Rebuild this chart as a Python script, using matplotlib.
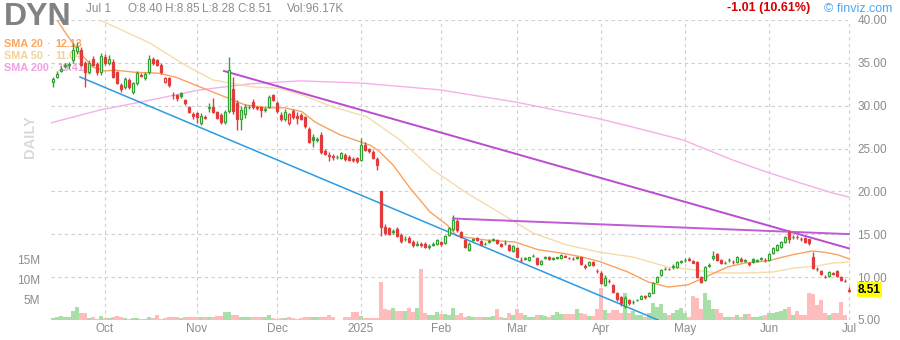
import matplotlib
matplotlib.use("Agg")
import matplotlib.pyplot as plt
import matplotlib.transforms as mtransforms

plt.rcParams['font.family'] = ['Liberation Sans', 'DejaVu Sans']

# ---------------- data (daily bars, index 0 = 12 Sep 2024 ... 199 = 1 Jul 2025) -------------
opens = [32.8, 33.4, 34.0, 34.6, 34.7, 35.3, 36.4, 36.5, 35.0, 33.9,
         35.5, 34.9, 33.9, 35.7, 35.0, 35.1, 33.9, 32.4, 32.2, 33.0,
         31.6, 32.6, 33.5, 33.2, 33.9, 35.4, 35.3, 34.7, 32.8, 33.2,
         31.3, 31.2, 31.5, 30.7, 29.9, 29.0, 29.1, 28.0, 28.6, 29.7,
         29.8, 29.3, 28.9, 28.1, 29.4, 32.0, 30.3, 28.5, 29.0, 29.8,
         30.4, 29.9, 29.8, 29.5, 29.9, 31.2, 30.3, 28.9, 28.4, 28.0,
         29.4, 28.8, 28.9, 28.7, 27.3, 26.4, 26.0, 26.6, 24.7, 24.3,
         24.1, 24.0, 23.9, 24.3, 24.0, 23.8, 23.9, 23.7, 25.4, 24.9,
         24.6, 23.8, 20.0, 15.9, 15.7, 15.3, 15.6, 14.9, 14.4, 14.6,
         14.1, 13.8, 13.9, 13.9, 13.55, 13.8, 13.9, 14.1, 14.0, 14.9,
         15.6, 16.6, 15.3, 14.3, 13.2, 14.3, 14.6, 14.2, 13.85, 14.1,
         14.35, 14.3, 13.9, 13.95, 13.75, 13.0, 13.4, 12.05, 12.15, 12.0,
         12.45, 12.2, 11.5, 12.25, 12.4, 12.15, 12.25, 12.2, 12.45, 12.25,
         12.15, 12.25, 12.3, 11.25, 11.4, 11.8, 10.75, 10.5, 9.1, 9.6,
         9.1, 8.2, 7.7, 6.6, 7.3, 7.05, 7.3, 7.5, 7.75, 7.8,
         8.2, 9.45, 10.2, 10.95, 11.0, 11.15, 11.2, 11.75, 11.95, 12.1,
         11.9, 11.8, 10.0, 9.7, 11.35, 12.2, 12.7, 12.0, 11.65, 11.95,
         11.8, 11.75, 12.1, 11.9, 11.6, 12.1, 11.9, 12.15, 12.05, 12.0,
         12.8, 13.2, 13.5, 14.1, 15.3, 14.65, 14.7, 14.5, 14.6, 14.45,
         12.35, 11.0, 10.7, 10.05, 10.1, 10.45, 10.7, 10.0, 9.6, 8.40]
highs = [33.4, 34.0, 34.6, 35.0, 35.1, 37.3, 37.4, 36.8, 35.2, 35.3,
         35.8, 35.1, 36.2, 36.0, 35.9, 35.4, 34.1, 32.6, 33.4, 33.2,
         32.8, 34.0, 33.8, 33.9, 35.9, 35.7, 35.5, 35.0, 33.4, 33.4,
         31.6, 31.4, 31.6, 30.8, 30.0, 29.3, 29.3, 29.2, 28.9, 30.3,
         30.9, 29.4, 29.1, 29.5, 35.7, 33.3, 30.7, 30.0, 30.2, 30.1,
         30.8, 30.0, 30.0, 29.9, 31.3, 31.4, 30.5, 29.3, 29.6, 29.2,
         29.6, 29.3, 29.2, 28.8, 27.5, 26.7, 26.3, 26.9, 24.9, 24.6,
         24.4, 24.3, 24.6, 24.5, 24.2, 24.0, 24.0, 26.2, 25.8, 25.1,
         24.8, 24.0, 20.0, 16.2, 15.9, 15.6, 15.8, 15.1, 14.8, 14.8,
         14.3, 14.2, 14.1, 14.1, 13.9, 14.1, 14.4, 14.2, 14.9, 15.8,
         17.2, 16.8, 15.4, 14.5, 14.1, 14.6, 14.7, 14.3, 14.1, 14.4,
         14.6, 14.4, 14.0, 14.3, 13.9, 13.7, 13.5, 12.3, 12.4, 12.4,
         12.7, 12.3, 12.0, 12.5, 12.5, 12.3, 12.4, 12.7, 12.55, 12.35,
         12.3, 12.4, 12.4, 11.5, 11.9, 11.9, 11.0, 10.7, 10.2, 9.8,
         9.2, 8.3, 7.8, 7.8, 7.4, 7.3, 7.5, 7.9, 7.9, 8.3,
         9.4, 10.1, 10.9, 11.2, 11.1, 11.5, 11.9, 12.0, 12.2, 12.4,
         12.0, 11.9, 10.1, 11.3, 11.7, 13.0, 12.8, 12.1, 11.9, 12.2,
         12.0, 12.5, 12.3, 12.1, 11.8, 12.2, 12.1, 12.4, 12.2, 12.8,
         13.5, 13.9, 14.2, 14.8, 15.5, 14.9, 14.9, 14.7, 14.7, 14.5,
         12.9, 11.2, 10.8, 10.3, 10.7, 10.6, 10.8, 10.1, 9.8, 8.85]
lows = [32.2, 33.2, 33.9, 34.4, 34.3, 35.0, 36.0, 34.6, 32.2, 33.7,
        34.6, 33.6, 33.6, 34.8, 34.8, 33.2, 32.5, 31.6, 32.0, 32.0,
        31.4, 32.4, 33.3, 33.0, 33.7, 34.8, 34.6, 33.7, 32.6, 32.2,
        30.8, 30.6, 30.9, 30.1, 29.1, 28.4, 28.0, 27.8, 28.4, 29.3,
        29.1, 28.4, 27.9, 27.9, 29.2, 29.0, 27.2, 27.2, 28.6, 29.6,
        29.6, 29.5, 28.7, 29.3, 29.7, 30.5, 29.2, 28.2, 28.2, 27.7,
        28.4, 27.9, 28.3, 27.4, 25.6, 25.2, 25.8, 24.4, 24.2, 23.6,
        23.7, 23.8, 23.8, 23.6, 23.5, 23.4, 23.3, 23.5, 24.7, 24.5,
        23.8, 22.5, 14.8, 14.9, 14.9, 15.0, 14.7, 14.0, 14.2, 14.0,
        13.5, 13.6, 13.5, 13.4, 13.3, 13.6, 13.8, 13.6, 13.9, 14.8,
        15.4, 15.3, 14.6, 13.4, 13.1, 14.2, 14.2, 13.7, 13.7, 14.0,
        14.2, 13.9, 13.5, 13.8, 13.1, 12.9, 12.3, 11.8, 12.0, 11.9,
        12.3, 11.4, 11.4, 12.1, 12.0, 12.0, 12.1, 12.1, 12.3, 12.1,
        12.0, 12.1, 11.4, 10.9, 11.3, 11.3, 10.5, 9.2, 9.0, 9.3,
        8.1, 7.2, 6.6, 6.4, 6.8, 6.9, 7.2, 7.4, 7.5, 7.7,
        8.1, 9.4, 10.1, 10.8, 10.8, 11.0, 11.1, 11.6, 11.8, 11.9,
        11.6, 9.9, 9.3, 9.5, 11.2, 12.0, 11.9, 11.5, 11.5, 11.8,
        11.5, 11.7, 11.8, 11.8, 11.3, 11.7, 11.8, 12.0, 11.8, 11.9,
        12.7, 13.1, 13.4, 14.0, 14.0, 14.5, 14.4, 14.2, 14.0, 13.8,
        11.0, 10.7, 10.2, 9.9, 10.0, 10.3, 10.0, 9.6, 9.4, 8.28]
closes = [33.1, 33.7, 34.3, 34.7, 34.9, 36.5, 36.9, 34.8, 33.9, 35.0,
          34.8, 33.9, 35.8, 35.0, 35.5, 33.4, 32.7, 31.9, 33.1, 32.2,
          32.6, 33.8, 33.6, 33.7, 35.5, 35.0, 34.8, 33.9, 33.2, 32.4,
          31.2, 30.9, 31.1, 30.3, 29.3, 28.8, 28.7, 28.75, 28.7, 29.9,
          29.3, 28.6, 28.1, 29.3, 34.2, 29.4, 28.5, 29.5, 29.8, 29.9,
          29.8, 29.7, 29.5, 29.6, 31.0, 30.7, 29.4, 28.4, 29.3, 29.0,
          28.7, 28.6, 28.5, 27.6, 25.8, 26.0, 26.1, 24.6, 24.4, 24.1,
          24.0, 24.05, 24.5, 23.8, 23.7, 23.65, 23.5, 25.4, 24.8, 24.7,
          23.9, 23.1, 15.8, 15.2, 15.0, 15.35, 14.8, 14.2, 14.5, 14.1,
          13.7, 13.9, 13.8, 13.5, 13.6, 13.9, 14.3, 13.9, 14.8, 15.7,
          16.7, 15.5, 14.7, 13.5, 13.9, 14.4, 14.3, 13.8, 13.9, 14.2,
          14.4, 14.0, 13.6, 14.0, 13.2, 13.6, 12.35, 12.0, 12.2, 12.3,
          12.5, 11.5, 11.9, 12.3, 12.1, 12.2, 12.3, 12.6, 12.4, 12.2,
          12.1, 12.3, 11.5, 11.2, 11.8, 11.4, 10.7, 9.3, 9.9, 9.55,
          8.3, 7.4, 7.0, 7.6, 7.0, 7.1, 7.35, 7.8, 7.7, 8.2,
          9.3, 10.0, 10.8, 11.0, 10.9, 11.3, 11.8, 11.85, 12.0, 11.95,
          11.7, 10.0, 9.45, 11.2, 11.4, 12.5, 12.0, 11.6, 11.7, 12.0,
          11.75, 12.35, 11.9, 11.95, 11.55, 11.8, 11.95, 12.2, 12.0, 12.7,
          13.4, 13.8, 14.1, 14.7, 14.45, 14.7, 14.65, 14.45, 14.1, 14.0,
          11.05, 10.95, 10.35, 10.0, 10.6, 10.4, 10.1, 9.7, 9.52, 8.51]
volumes_m = [0.6, 0.8, 1.0, 0.7, 0.7, 2.3, 3.2, 1.7, 1.75, 0.6,
             0.75, 0.35, 1.0, 0.4, 0.5, 0.8, 1.0, 0.7, 0.5, 0.35,
             0.5, 0.5, 0.25, 0.35, 0.75, 0.5, 1.2, 0.35, 0.5, 0.7,
             0.7, 0.7, 0.6, 0.7, 0.75, 0.75, 0.75, 0.7, 0.7, 0.7,
             0.8, 1.0, 1.0, 1.9, 2.0, 1.3, 1.25, 0.8, 0.7, 0.7,
             0.8, 0.8, 0.8, 0.8, 1.25, 0.5, 0.35, 0.5, 0.5, 0.7,
             0.5, 0.35, 0.4, 0.7, 0.7, 0.7, 0.7, 0.7, 0.7, 1.2,
             0.7, 0.1, 0.1, 0.7, 0.7, 1.9, 1.9, 1.0, 0.6, 0.6,
             0.6, 0.5, 9.6, 2.8, 2.5, 2.9, 2.25, 2.25, 2.25, 3.0,
             1.9, 3.0, 12.75, 1.8, 1.2, 1.2, 1.9, 1.4, 1.4, 1.25,
             3.0, 1.25, 1.7, 0.8, 1.0, 0.8, 0.8, 0.8, 0.8, 0.8,
             1.0, 2.75, 0.8, 0.4, 1.7, 1.2, 2.75, 1.7, 1.2, 0.8,
             0.7, 1.3, 1.2, 1.0, 0.7, 1.2, 1.9, 1.5, 1.5, 1.5,
             1.5, 2.7, 1.7, 1.5, 1.0, 1.0, 2.7, 8.1, 2.5, 1.7,
             2.5, 2.5, 1.7, 6.7, 1.7, 2.3, 1.25, 1.25, 0.8, 1.7,
             4.2, 3.3, 4.0, 1.7, 1.25, 1.7, 2.5, 2.9, 1.7, 0.7,
             6.0, 5.4, 2.7, 6.7, 5.0, 2.7, 2.7, 1.7, 0.8, 0.8,
             0.8, 1.2, 0.7, 1.4, 1.4, 0.7, 0.7, 1.0, 1.25, 1.8,
             1.8, 2.1, 2.3, 2.7, 3.2, 1.25, 2.3, 1.25, 1.25, 6.7,
             6.5, 3.75, 5.0, 1.7, 1.25, 1.7, 1.7, 4.4, 1.25, 0.1]

# moving averages (bar index, value)
sma20_idx = [0, 1, 3.5, 6.75, 10, 13, 15.5, 20.5, 26.25, 30.5, 33, 37.25, 41.25, 43.75, 48,
             53.75, 58, 62.25, 65.5, 68, 71.75, 76.75, 79.25, 81.25, 85, 89.25, 94.25, 98.5,
             101, 108.75, 115.5, 121.25, 127.25, 132.25, 136.75, 143.75, 148.75, 153.75,
             158.75, 163, 168.75, 173, 178.75, 184.75, 189.75, 193, 196.25, 199]
sma20_val = [40.6, 40.0, 38.25, 36.15, 34.5, 34.05, 34.15, 33.9, 33.8, 33.35, 32.9, 32.1, 31.35,
             30.9, 30.1, 29.75, 29.75, 29.3, 28.1, 27.5, 26.6, 25.8, 25.4, 24.8, 23.1, 20.4,
             17.6, 16.1, 14.8, 14.3, 14.1, 13.2, 12.8, 12.35, 11.8, 10.6, 9.45, 8.85, 9.1,
             10.0, 11.2, 11.65, 11.9, 12.6, 13.05, 12.9, 12.6, 12.13]
sma50_idx = [9, 11.75, 24.25, 33, 40, 49.75, 56.25, 62.25, 70, 78.5, 86.75, 95, 103.5, 111.75,
             120, 128.5, 136.75, 145, 153.5, 158.5, 166, 174.25, 180, 185, 191, 195, 199]
sma50_val = [40.4, 40.0, 37.3, 34.75, 33.0, 32.2, 32.05, 31.25, 29.85, 28.7, 26.0, 22.5, 19.8,
             17.5, 15.15, 13.75, 12.9, 12.35, 11.2, 10.95, 10.5, 10.5, 10.6, 11.05, 11.3,
             11.65, 11.75]
sma200_idx = [-0.5, 11.75, 24.25, 36.75, 49.25, 61.75, 76.75, 96.75, 116, 136.75, 145, 157.5,
              170, 178.5, 186.75, 195, 199]
sma200_val = [28.0, 29.5, 30.65, 31.85, 32.55, 32.9, 32.65, 31.85, 30.4, 28.45, 27.5, 26.0,
              23.65, 22.25, 21.0, 19.8, 19.35]

# trend lines (bar index, price) endpoints
trend_blue = ([6.75, 151.25], [33.35, 5.0])
trend_purple1 = ([42.75, 199], [34.05, 13.35])
trend_purple2 = ([100, 199], [16.84, 15.02])

month_idx = [13, 36, 56, 77, 97, 116, 137, 158, 179, 199]
month_lbl = ['Oct', 'Nov', 'Dec', '2025', 'Feb', 'Mar', 'Apr', 'May', 'Jun', 'Jul']
price_ticks = [5, 10, 15, 20, 25, 30, 35, 40]
vol_ticks = [5, 10, 15]
vol_lbl = ['5M', '10M', '15M']

sma_names = ['SMA 20', 'SMA 50', 'SMA 200']
sma_values = ['12.13', '11.04', '19.41']

# ---------------- styling -------------
GREEN = '#33a133'
RED = '#e23b3b'
VGREEN = '#a9dea6'
VRED = '#ffbcbc'
GRID = '#cfcfcf'
TXT = '#8c8c8c'
SMA_COLS = ['#ffa55a', '#f1d39a', '#f0a0e2']

W, H = 900, 340
fig = plt.figure(figsize=(W / 100, H / 100), dpi=100)
fig.patch.set_facecolor('white')
ax = fig.add_axes([51 / W, 20 / H, 800 / W, 300 / H])
axv = ax.twinx()
axv.set_zorder(ax.get_zorder() - 1)
ax.patch.set_visible(False)

n = len(closes)
xs = list(range(n))

# colour per bar: vs previous close
cols = []
for i in range(n):
    ref = closes[i - 1] if i > 0 else opens[i]
    cols.append(GREEN if closes[i] >= ref else RED)

# volume
axv.bar(xs, volumes_m, width=0.9, color=[VGREEN if c == GREEN else VRED for c in cols],
        linewidth=0)
axv.set_ylim(0, 75)
axv.set_xlim(-0.5, n - 0.5)
axv.yaxis.tick_left()
axv.set_yticks(vol_ticks)
axv.set_yticklabels(vol_lbl)
axv.tick_params(axis='y', length=0, pad=8, labelsize=8.5, labelcolor=TXT)
for s in axv.spines.values():
    s.set_visible(False)

# grid
ax.set_xlim(-0.5, n - 0.5)
ax.set_ylim(5, 40)
ax.set_yticks(price_ticks)
ax.set_yticklabels(['%.2f' % p for p in price_ticks])
ax.yaxis.tick_right()
ax.set_xticks(month_idx)
ax.set_xticklabels(month_lbl)
ax.tick_params(axis='y', length=0, pad=4.5, labelsize=8.5, labelcolor=TXT)
ax.tick_params(axis='x', length=0, pad=2.5, labelsize=8.5, labelcolor=TXT)
ax.grid(True, color=GRID, lw=0.8, ls=(0, (3, 3)), zorder=0)
ax.set_axisbelow(True)
for s in ax.spines.values():
    s.set_visible(False)

# moving averages
ax.plot(sma200_idx, sma200_val, color='#f4b0ea', lw=1.0, zorder=2)
ax.plot(sma50_idx, sma50_val, color='#f5dcab', lw=1.0, zorder=2)
ax.plot(sma20_idx, sma20_val, color='#f9a25e', lw=1.0, zorder=2)

# trend lines
ax.plot(*trend_blue, color='#2a9be4', lw=1.1, zorder=2.5)
ax.plot(*trend_purple1, color='#b94cd0', lw=1.4, zorder=2.5)
ax.plot(*trend_purple2, color='#c05cd6', lw=1.4, zorder=2.5)

# candles
ax.vlines(xs, lows, highs, colors=cols, lw=1.0, zorder=3)
bottoms = [min(o, c) for o, c in zip(opens, closes)]
heights = [max(abs(c - o), 0.04) for o, c in zip(opens, closes)]
faces = ['white' if closes[i] > opens[i] else cols[i] for i in range(n)]
ax.bar(xs, heights, bottom=bottoms, width=0.6, color=faces, edgecolor=cols,
       linewidth=0.9, zorder=4)

# legend (under candles)
leg_y = [44, 56, 68]
dot_x = [47, 47, 50]
val_x = [55, 55, 57]
for name, val, col, y, dx, vx in zip(sma_names, sma_values, SMA_COLS, leg_y, dot_x, val_x):
    ax.text(4 / W, 1 - y / H, name, transform=fig.transFigure, color=col, fontsize=7.8,
            fontweight='bold', va='center', ha='left', zorder=1, clip_on=False)
    ax.text(dx / W, 1 - y / H, '·', transform=fig.transFigure, color='#9a9a9a',
            fontsize=7.8, va='center', ha='left', zorder=1, clip_on=False)
    ax.text(vx / W, 1 - y / H, val, transform=fig.transFigure, color=col, fontsize=7.8,
            fontweight='bold', va='center', ha='left', zorder=1, clip_on=False)

# header texts
fig.text(4 / W, 1 - 25 / H, 'DYN', fontsize=23, fontweight='bold', color='#828282',
         va='baseline', ha='left')
fig.text(86 / W, 1 - 8.5 / H, 'Jul 1', fontsize=8.5, color=TXT, va='center', ha='left')
for txt, x in [('O:8.40', 127), ('H:8.85', 165), ('L:8.28', 202), ('C:8.51', 237),
               ('Vol:96.17K', 287)]:
    fig.text(x / W, 1 - 8.5 / H, txt, fontsize=8.5, color=TXT, va='center', ha='left')
fig.text(810 / W, 1 - 8.5 / H, '-1.01 (10.61%)', fontsize=9, fontweight='bold',
         color='#d40000', va='center', ha='right')
fig.text(824 / W, 1 - 8.5 / H, '© finviz.com', fontsize=9, color='#4ea6f2',
         va='center', ha='left')
fig.text(30 / W, 1 - 137 / H, 'DAILY', rotation=90, fontsize=10.5, fontweight='bold',
         color='#d9d9d9', va='center', ha='center')

# last price badge
trans = mtransforms.blended_transform_factory(ax.transAxes, ax.transData)
ax.text((858 - 51) / 800, closes[-1], '%.2f' % closes[-1], transform=trans, fontsize=8.5,
        fontweight='bold', color='black', va='center', ha='left', clip_on=False,
        bbox=dict(boxstyle='square,pad=0.12', facecolor='#ffff00', edgecolor='none'),
        zorder=6)

fig.savefig('out.png', dpi=100)
